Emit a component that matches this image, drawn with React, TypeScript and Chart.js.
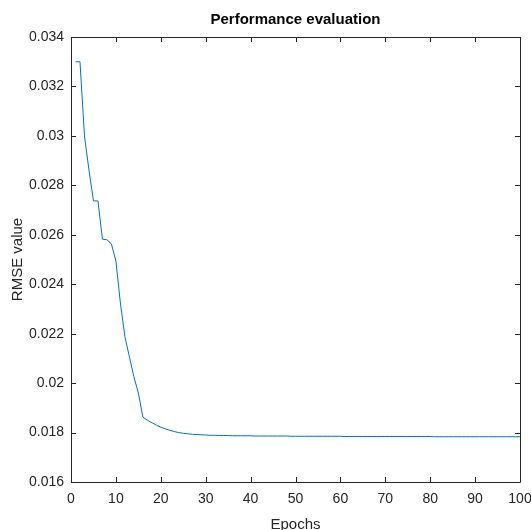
import React, { useEffect, useRef } from "react";
import { Chart, registerables } from "chart.js";

Chart.register(...registerables);

const epochs: number[] = Array.from({ length: 100 }, (_, i) => i + 1);

const rmseValues: number[] = [
  0.0330, 0.0330, 0.0300, 0.02862, 0.02737, 0.02737, 0.02582, 0.02580, 0.02563, 0.02494,
  0.02324, 0.02188, 0.02107, 0.02026, 0.01960, 0.01863, 0.01850, 0.01840, 0.01830, 0.01822,
  0.01815, 0.01809, 0.01804, 0.01800, 0.01797, 0.01795, 0.01793, 0.01792, 0.01791, 0.01790,
  0.01789, 0.01789, 0.01788, 0.01788, 0.01788, 0.01787, 0.01787, 0.01787, 0.01787, 0.01787,
  0.01786, 0.01786, 0.01786, 0.01786, 0.01786, 0.01786, 0.01786, 0.01786, 0.01785, 0.01785,
  0.01785, 0.01785, 0.01785, 0.01785, 0.01785, 0.01785, 0.01785, 0.01785, 0.01785, 0.01785,
  0.01784, 0.01784, 0.01784, 0.01784, 0.01784, 0.01784, 0.01784, 0.01784, 0.01784, 0.01784,
  0.01784, 0.01784, 0.01784, 0.01784, 0.01784, 0.01784, 0.01784, 0.01784, 0.01784, 0.01784,
  0.01783, 0.01783, 0.01783, 0.01783, 0.01783, 0.01783, 0.01783, 0.01783, 0.01783, 0.01783,
  0.01783, 0.01783, 0.01783, 0.01783, 0.01783, 0.01783, 0.01783, 0.01783, 0.01783, 0.01783,
];

const xTicks: number[] = [0, 10, 20, 30, 40, 50, 60, 70, 80, 90, 100];
const yTicks: number[] = [0.016, 0.018, 0.02, 0.022, 0.024, 0.026, 0.028, 0.03, 0.032, 0.034];

const titleText = "Performance evaluation";
const xTitle = "Epochs";
const yTitle = "RMSE value";

const AXIS_COLOR = "#262626";
const FONT = "'Liberation Sans', Arial, Helvetica, sans-serif";

const boxPlugin = {
  id: "matlabBox",
  afterDraw(chart: any) {
    const { ctx, chartArea } = chart;
    const { left, right, top, bottom } = chartArea;
    const xs = chart.scales.x;
    const ys = chart.scales.y;
    const len = 5;
    ctx.save();
    ctx.strokeStyle = AXIS_COLOR;
    ctx.lineWidth = 1;
    ctx.beginPath();
    ctx.rect(Math.round(left) + 0.5, Math.round(top) + 0.5, Math.round(right - left), Math.round(bottom - top));
    for (const v of xTicks) {
      const px = Math.round(xs.getPixelForValue(v)) + 0.5;
      ctx.moveTo(px, bottom);
      ctx.lineTo(px, bottom - len);
      ctx.moveTo(px, top);
      ctx.lineTo(px, top + len);
    }
    for (const v of yTicks) {
      const py = Math.round(ys.getPixelForValue(v)) + 0.5;
      ctx.moveTo(left, py);
      ctx.lineTo(left + len, py);
      ctx.moveTo(right, py);
      ctx.lineTo(right - len, py);
    }
    ctx.stroke();
    ctx.restore();
  },
};

export default function App() {
  const canvasRef = useRef<HTMLCanvasElement | null>(null);

  useEffect(() => {
    document.body.style.margin = "0";
    const canvas = canvasRef.current;
    if (!canvas) return;
    const chart = new Chart(canvas, {
      type: "line",
      data: {
        datasets: [
          {
            data: epochs.map((e, i) => ({ x: e, y: rmseValues[i] })),
            borderColor: "#0072BD",
            borderWidth: 1,
            pointRadius: 0,
            fill: false,
            tension: 0,
          },
        ],
      },
      options: {
        animation: false,
        responsive: false,
        maintainAspectRatio: false,
        devicePixelRatio: 1,
        layout: { padding: { left: 0, right: 11, top: 0, bottom: 0 } },
        plugins: {
          legend: { display: false },
          tooltip: { enabled: false },
          title: {
            display: true,
            text: titleText,
            fullSize: false,
            color: "#000000",
            font: { family: FONT, size: 15, weight: "bold", lineHeight: 1.2 },
            padding: { top: 10.5, bottom: 8.5 },
          },
        },
        scales: {
          x: {
            type: "linear",
            min: 0,
            max: 100,
            afterBuildTicks: (scale: any) => {
              scale.ticks = xTicks.map((v) => ({ value: v }));
            },
            afterFit: (scale: any) => {
              scale.height = 48;
              scale.paddingLeft = 0;
              scale.paddingRight = 0;
            },
            grid: { display: false, drawTicks: false },
            border: { display: false },
            ticks: {
              color: AXIS_COLOR,
              font: { family: FONT, size: 14 },
              padding: 9,
              maxRotation: 0,
              autoSkip: false,
              callback: (v: any) => String(v),
            },
            title: {
              display: true,
              text: xTitle,
              color: AXIS_COLOR,
              font: { family: FONT, size: 15, lineHeight: 0.75 },
              padding: { top: 0, bottom: 0 },
            },
          },
          y: {
            type: "linear",
            min: 0.016,
            max: 0.034,
            afterBuildTicks: (scale: any) => {
              scale.ticks = yTicks.map((v) => ({ value: v }));
            },
            afterFit: (scale: any) => {
              scale.width = 71;
              scale.paddingTop = 0;
              scale.paddingBottom = 0;
            },
            grid: { display: false, drawTicks: false },
            border: { display: false },
            ticks: {
              color: AXIS_COLOR,
              font: { family: FONT, size: 14 },
              padding: 7,
              autoSkip: false,
              callback: (v: any) => String(parseFloat(Number(v).toFixed(4))),
            },
            title: {
              display: true,
              text: yTitle,
              color: AXIS_COLOR,
              font: { family: FONT, size: 15, lineHeight: 1.2 },
              padding: { top: 9, bottom: 0 },
            },
          },
        },
      },
      plugins: [boxPlugin],
    });
    return () => chart.destroy();
  }, []);

  return (
    <div style={{ position: "absolute", left: 0, top: 0, width: 531, height: 530, background: "#ffffff" }}>
      <canvas ref={canvasRef} width={531} height={530} style={{ width: 531, height: 530, display: "block" }} />
    </div>
  );
}
